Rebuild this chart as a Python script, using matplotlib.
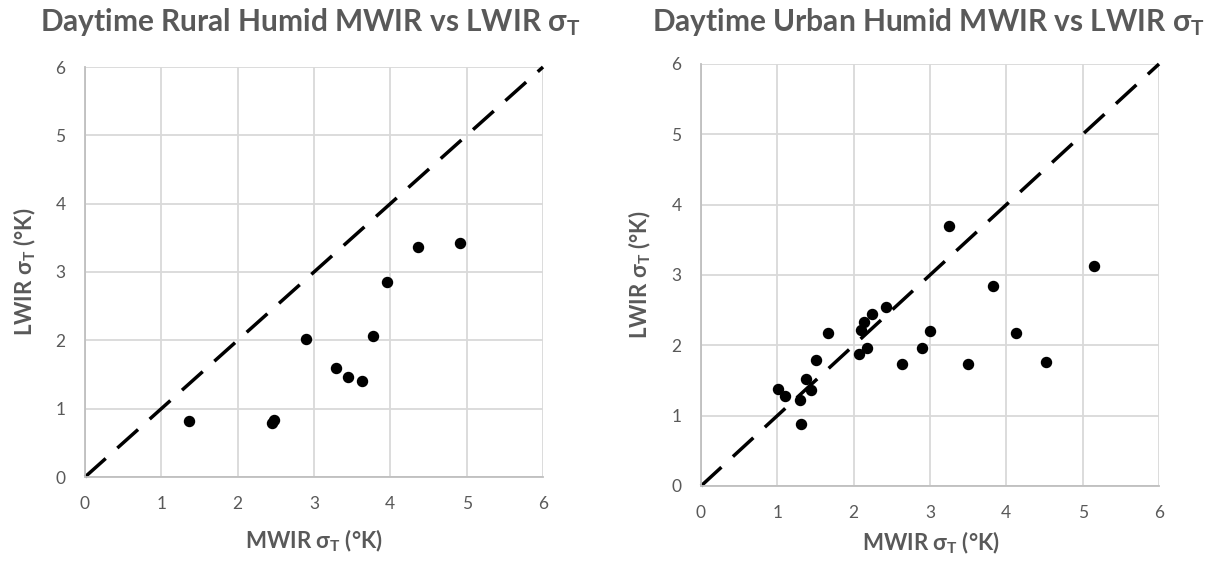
import matplotlib
matplotlib.use("Agg")
import matplotlib.pyplot as plt

plt.rcParams['font.family'] = ['Lato', 'DejaVu Sans']
plt.rcParams['mathtext.fontset'] = 'custom'
plt.rcParams['mathtext.rm'] = 'Lato:bold'
plt.rcParams['mathtext.it'] = 'Lato:bold'
plt.rcParams['mathtext.bf'] = 'Lato:bold'

# Data
rural_mwir = [1.36, 2.45, 2.47, 2.90, 3.29, 3.45, 3.63, 3.77, 3.96, 4.36, 4.91]
rural_lwir = [0.82, 0.79, 0.83, 2.02, 1.60, 1.46, 1.40, 2.07, 2.85, 3.37, 3.43]

urban_mwir = [3.25, 1.01, 1.10, 1.30, 1.31, 1.37, 1.44, 1.50, 1.67, 2.07, 2.18,
              2.10, 2.14, 2.24, 2.42, 2.63, 2.90, 3.00, 3.50, 3.83, 4.13, 4.52, 5.15]
urban_lwir = [3.70, 1.38, 1.28, 1.22, 0.88, 1.52, 1.37, 1.79, 2.17, 1.88, 1.96,
              2.22, 2.33, 2.45, 2.54, 1.74, 1.96, 2.21, 1.74, 2.85, 2.17, 1.76, 3.13]

ticks = [0, 1, 2, 3, 4, 5, 6]
titles = ["Daytime Rural Humid MWIR vs LWIR σ$_{\\mathrm{T}}$",
          "Daytime Urban Humid MWIR vs LWIR σ$_{\\mathrm{T}}$"]
xlabel = "MWIR σ$_{\\mathrm{T}}$ (°K)"
ylabel = "LWIR σ$_{\\mathrm{T}}$ (°K)"

W, H = 1209, 564
fig = plt.figure(figsize=(W / 100, H / 100), dpi=100)

gray = '#595959'
gridc = '#d9d9d9'
axc = '#bfbfbf'

def make_ax(x0, y0, x1, y1):
    return fig.add_axes([x0 / W, 1 - y1 / H, (x1 - x0) / W, (y1 - y0) / H])

axes = [make_ax(85, 67, 543, 477), make_ax(701, 64, 1159, 486)]
data = [(rural_mwir, rural_lwir), (urban_mwir, urban_lwir)]

for ax, (xs, ys) in zip(axes, data):
    ax.set_xlim(0, 6)
    ax.set_ylim(0, 6)
    ax.set_xticks(ticks)
    ax.set_yticks(ticks)
    ax.grid(True, color=gridc, linewidth=1.3)
    ax.set_axisbelow(True)
    for k, s in ax.spines.items():
        if k in ('left', 'bottom'):
            s.set_color(axc)
            s.set_linewidth(1.3)
        else:
            s.set_visible(False)
    ax.tick_params(length=0, labelsize=12.5, labelcolor=gray, pad=14)
    ax.plot([0, 6], [0, 6], color='black', linewidth=2.5, linestyle=(0, (8, 4.5)),
            clip_on=False, zorder=2)
    ax.scatter(xs, ys, s=52, color='black', zorder=3, clip_on=False)

# titles
fig.text(310 / W, 1 - 22 / H, titles[0], ha='center', va='center',
         fontsize=21.5, fontweight='bold', color=gray)
fig.text(928 / W, 1 - 22 / H, titles[1], ha='center', va='center',
         fontsize=21.5, fontweight='bold', color=gray)

# axis labels
fig.text(314 / W, 1 - 541 / H, xlabel, ha='center', va='center',
         fontsize=16, fontweight='bold', color=gray)
fig.text(931 / W, 1 - 543 / H, xlabel, ha='center', va='center',
         fontsize=16, fontweight='bold', color=gray)
fig.text(25 / W, 1 - 272 / H, ylabel, ha='center', va='center', rotation=90,
         fontsize=16, fontweight='bold', color=gray)
fig.text(640 / W, 1 - 275 / H, ylabel, ha='center', va='center', rotation=90,
         fontsize=16, fontweight='bold', color=gray)

fig.savefig('out.png', dpi=100)
